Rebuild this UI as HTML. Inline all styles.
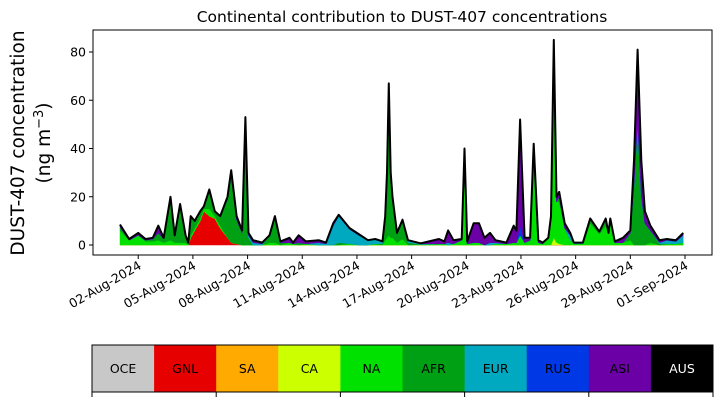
<!DOCTYPE html>
<html><head><meta charset="utf-8"><style>
html,body{margin:0;padding:0;background:#fff;}
svg text{font-family:"DejaVu Sans","Liberation Sans",sans-serif;}
</style></head><body>
<svg id="chart" width="721" height="402" viewBox="0 0 721 402" xmlns="http://www.w3.org/2000/svg">
<text x="402" y="22" font-size="15.5" text-anchor="middle">Continental contribution to DUST-407 concentrations</text>
<g font-size="18.5" text-anchor="middle">
<text transform="translate(24,143) rotate(-90)">DUST-407 concentration</text>
<text transform="translate(50,143) rotate(-90)">(ng m<tspan font-size="13" dy="-7">−3</tspan><tspan dy="7">)</tspan></text>
</g>
<g id="plot"></g>
<g id="cbar"></g>
</svg>
<script>
const days=[0,0.5,1.0,1.4,1.8,2.1,2.4,2.77,3.0,3.3,
3.6,3.75,3.88,4.1,4.4,4.6,4.9,5.2,5.5,5.9,
6.1,6.4,6.7,6.88,7.05,7.3,7.8,8.2,8.5,8.8,
9.3,9.5,9.8,10.2,10.9,11.3,11.7,12.0,12.6,13.1,
13.6,14.0,14.4,14.55,14.65,14.75,14.85,14.95,15.2,15.5,15.8,16.5,
17.5,17.8,18.0,18.3,18.75,18.9,19.05,19.4,19.7,20.0,
20.3,20.6,21.2,21.6,21.75,21.95,22.2,22.5,22.7,22.95,
23.2,23.5,23.65,23.8,23.95,24.1,24.4,24.7,24.9,25.4,
25.8,26.3,26.65,26.8,26.9,27.15,27.6,28.0,28.2,28.4,28.6,28.8,
29.1,29.6,30.0,30.5,30.9];
const total=[8.5,2.5,5,2.5,3,8,3,20,4,17,
4,1,12,10,14,16,23,14,12,20,
31,12,6,53,5,2,1,4,12,1.5,
3,1,4,1.5,2,1,9,12.5,7,4.5,
2,2.5,1.5,12,30,67,30,20,5,10.5,2,0.7,
2.5,1.5,6,2,2.5,40,1.5,9,9,3,
5,2,1,8,6,52,3,3,42,2,
1,3,12,85,20,22,9,5,1,1,
11,5.5,11,5,11,1.5,3,6,35,81,35,14,
8,2,2.5,2,5];
const gnl=[0,0,0,0,0,0,0,0,0,0,
0,0,3,6,10,14,12,11,7,3,
1,0.5,0,0,0,0,0,0,0,0,
0,0,0,0,0,0,0,0,0,0,
0,0,0,0,0,0,0,0,0,0,0,0,
0,0,0,0,0,0,0,0,0,0,
0,0,0,0,0,0,0,0,0,0,
0,0,0,0,0,0,0,0,0,0,
0,0,0,0,0,0,0,0,0,0,0,0,
0,0,0,0,0];
const ca=[0,0,0,0,0,0,0,0,0,0,
0,0,0,0,0,0,0,0,0,0,
0,0,0,0,0,0,0,0,0,0,
0,0,0,0,0,0,0,0,0,0,
0,0,0,0,0,0,0,0,0,0,0,0,
0,0,0,0,0,0,0,0,0,0,
0,0,0,0,0,0,0,0,0,0,
0,0,0,3,1,0.5,0,0,0,0,
0,0,0,0,0,0,0,0,0,0,0,0,
0,0,0,0,0];
const afr=[1.5,0,0,0.5,1,3,1.5,17,3,15,
3,1,8,3,3,1,8,2,4,16,
28,10,5,46,3,0,0,3,10,1,
0,0,1,0,0,0,0,1,0,0,
0,0,0.5,10,27,60,27,17,4,8,1,0,
0,0,0,0,0,0,0,0,0,0,
0,0,0,0,0,0,0,0,4,0,
0,0,2,5,0,2,0,0,0,0,
2,1,3,0,2,0,0,3,25,50,20,9,
5,0.5,0,0,0];
const eur=[0,0,0,0,0,0,0,0,0,0,
0,0,0,0,0,0,0,0,0,0,
0,0,0,0,1,1,0.5,0,0,0,
0,0,0,0,1,0.5,8,11,6,4,
2,2,1,0,0,0,0,0,0,0,1,0.3,
0,0,1,0,0,0,0,0,0,0,
1,0.5,0,0,0,0,0,0,0,0,
0,0,0,0,0,0,0,2,0.5,0.5,
0,0,0,0,0,0,0,0,0,0,0,0,
0,0.5,1.5,1,3];
const rus=[0,0,0,0,0,0,0,0,0,0,
0,0,0,0,0,0,0,0,0,0,
0,0,0,3,0,0,0,0,0,0,
0,0,0,0,0,0,0,0,0,0,
0,0,0,0,0,2,0,0,0,0,0,0,
0,0,0,0,0,3,0,0,0,0,
0,0,0,0,0,4,0,0,4,0,
0,0,0,7,0,0,0,0,0,0,
0,0,0,0,0,0,0,0,1,3,1,0,
0,0,0,0,0];
const asi=[1,0.5,1,0.5,0.5,3,0.5,1,0,1,
0,0,0,0,0,0,0,0,0,1,
2,1.5,1,4,1,1,0.5,0,1,0.5,
2,0.5,3,1,1,0.5,1,0.5,0.5,0.5,
0,0,0,0,0,1,0,0,0,0,0,0.2,
2,1,5,1.5,0.5,5,1,8,8,3,
4,1,0.5,7,5,44,2,1,0,1,
0.5,0,0,8,2,2,2,1,0,0,
0,0,0,0,0,0.5,2,1,9,28,14,5,
2,1,0.5,0.5,1];
const yTicks=[0,20,40,60,80];
const xTickLabels=["02-Aug-2024","05-Aug-2024","08-Aug-2024","11-Aug-2024","14-Aug-2024","17-Aug-2024","20-Aug-2024","23-Aug-2024","26-Aug-2024","29-Aug-2024","01-Sep-2024"];
const xTickDays=[1,4,7,10,13,16,19,22,25,28,31];
const regions=["OCE","GNL","SA","CA","NA","AFR","EUR","RUS","ASI","AUS"];
const regionColors=["#c8c8c8","#e60000","#ffaa00","#ccff00","#00e100","#00a014","#00a8c0","#0038e6","#6a00a6","#000000"];

const NS="http://www.w3.org/2000/svg";
const L=93,R=712,T=30,B=255;
const X=d=>120+d*(685-120)/31;
const Y=v=>245-v*(245-52)/80;
function mk(tag,attrs,parent){const e=document.createElementNS(NS,tag);for(const k in attrs)e.setAttribute(k,attrs[k]);parent.appendChild(e);return e;}
const plot=document.getElementById('plot');
const na=total.map((t,i)=>Math.max(0,t-gnl[i]-ca[i]-afr[i]-eur[i]-rus[i]-asi[i]));
const layers=[["gnl",gnl,regionColors[1]],["ca",ca,regionColors[3]],["na",na,regionColors[4]],["afr",afr,regionColors[5]],["eur",eur,regionColors[6]],["rus",rus,regionColors[7]],["asi",asi,regionColors[8]]];
let base=days.map(()=>0);
layers.forEach(([nm,arr,col])=>{
  const top=base.map((b,i)=>b+arr[i]);
  let d="M"+days.map((dd,i)=>X(dd).toFixed(1)+","+Y(top[i]).toFixed(1)).join("L");
  for(let i=days.length-1;i>=0;i--)d+="L"+X(days[i]).toFixed(1)+","+Y(base[i]).toFixed(1);
  const p=mk('path',{d:d+"Z",fill:col,stroke:col,'stroke-width':0.5},plot);
  
  
  base=top;
});
const line=mk('path',{d:"M"+days.map((dd,i)=>X(dd).toFixed(1)+","+Y(base[i]).toFixed(1)).join("L"),fill:"none",stroke:"#000","stroke-width":2,"stroke-linejoin":"round"},plot);


const frame=mk('rect',{x:L,y:T,width:R-L,height:B-T,fill:"none",stroke:"#000","stroke-width":1},plot);


yTicks.forEach(v=>{
  mk('line',{x1:L-4,x2:L,y1:Y(v),y2:Y(v),stroke:"#000"},plot);
  const t=mk('text',{x:L-7,y:Y(v)+4.5,'font-size':12.5,'text-anchor':'end'},plot);
  t.textContent=v;
  
  
});
xTickDays.forEach((d,i)=>{
  const x=X(d);
  mk('line',{x1:x,x2:x,y1:B,y2:B+4,stroke:"#000"},plot);
  const t=mk('text',{x:0,y:0,'font-size':12.5,'text-anchor':'end',transform:`translate(${x+4},${B+13}) rotate(-30)`},plot);
  t.textContent=xTickLabels[i];
  
  
});
const cb=document.getElementById('cbar');
const cx0=92,cx1=713,cy0=345,cy1=392,cw=(cx1-cx0)/regions.length;
regions.forEach((r,i)=>{
  const rc=mk('rect',{x:cx0+i*cw,y:cy0,width:cw+0.5,height:cy1-cy0,fill:regionColors[i]},cb);
  
  
  const t=mk('text',{x:cx0+(i+0.5)*cw,y:373,'font-size':12.5,'text-anchor':'middle',fill:r==="AUS"?"#fff":"#000"},cb);
  t.textContent=r;
  
  
});
const cbf=mk('rect',{x:cx0,y:cy0,width:cx1-cx0,height:cy1-cy0,fill:"none",stroke:"#000"},cb);


for(let i=0;i<=regions.length;i+=2){mk('line',{x1:cx0+i*cw,x2:cx0+i*cw,y1:cy1,y2:cy1+5,stroke:"#000"},cb);}
</script>
</body></html>
